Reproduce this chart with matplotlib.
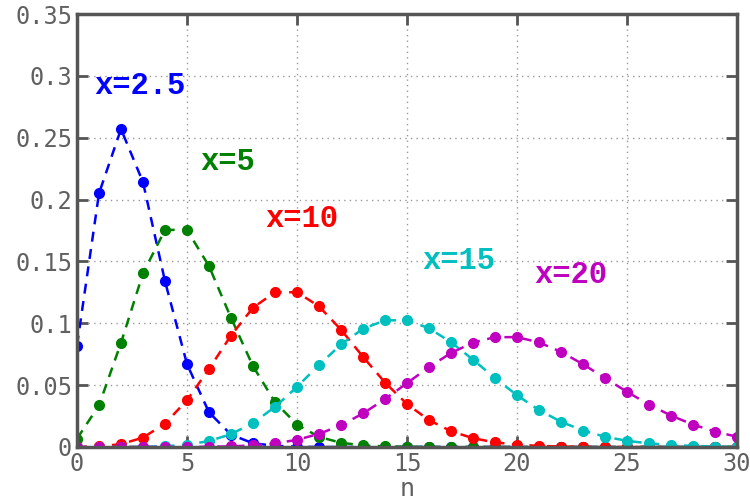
import matplotlib.pyplot as plt
import numpy as np

n = np.arange(31)

# poisson probabilities
p25 = [0.082, 0.205, 0.257, 0.214, 0.134, 0.067, 0.028, 0.010, 0.003, 0.001,
       0.0002, 0, 0, 0, 0, 0, 0, 0, 0, 0, 0, 0, 0, 0, 0, 0, 0, 0, 0, 0, 0]
p5 = [0.0067, 0.0337, 0.0842, 0.1404, 0.1755, 0.1755, 0.1462, 0.1044, 0.0653,
      0.0363, 0.0181, 0.0082, 0.0034, 0.0013, 0.0005, 0.0002, 0, 0, 0, 0, 0,
      0, 0, 0, 0, 0, 0, 0, 0, 0, 0]
p10 = [0.0000, 0.0005, 0.0023, 0.0076, 0.0189, 0.0378, 0.0631, 0.0901, 0.1126,
       0.1251, 0.1251, 0.1137, 0.0948, 0.0729, 0.0521, 0.0347, 0.0217, 0.0128,
       0.0071, 0.0037, 0.0019, 0.0009, 0.0004, 0.0002, 0.0001, 0, 0, 0, 0, 0, 0]
p15 = [0, 0, 0, 0.0002, 0.0006, 0.0019, 0.0048, 0.0104, 0.0194, 0.0324, 0.0486,
       0.0663, 0.0829, 0.0956, 0.1024, 0.1024, 0.0960, 0.0847, 0.0706, 0.0557,
       0.0418, 0.0299, 0.0204, 0.0133, 0.0083, 0.0050, 0.0029, 0.0016, 0.0009,
       0.0004, 0.0002]
p20 = [0, 0, 0, 0, 0, 0.0001, 0.0002, 0.0005, 0.0013, 0.0029, 0.0058, 0.0106,
       0.0176, 0.0271, 0.0387, 0.0516, 0.0646, 0.0760, 0.0844, 0.0888, 0.0888,
       0.0846, 0.0769, 0.0669, 0.0557, 0.0446, 0.0343, 0.0254, 0.0181, 0.0125,
       0.0083]

series = [p25, p5, p10, p15, p20]
colors = ['#0000ff', '#008000', '#ff0000', '#00bfbf', '#bf00bf']
labels = ['x=2.5', 'x=5', 'x=10', 'x=15', 'x=20']
label_pos = [(0.8, 0.292), (5.6, 0.230), (8.55, 0.184), (15.7, 0.150), (20.8, 0.139)]

fig = plt.figure(figsize=(7.5, 5.01), dpi=100)
ax = fig.add_axes([77/750, 54/501, 660/750, 433/501])

for y, c in zip(series, colors):
    ax.plot(n, y, '--', color=c, lw=1.8, marker='o', ms=7, dashes=(4, 3))

for (lx, ly), t, c in zip(label_pos, labels, colors):
    ax.text(lx, ly, t, color=c, fontsize=22, fontweight='bold',
            family='Liberation Mono', va='center', ha='left')

ax.set_xlim(0, 30)
ax.set_ylim(0, 0.35)
ax.set_xticks(range(0, 31, 5))
yt = [0, 0.05, 0.1, 0.15, 0.2, 0.25, 0.3, 0.35]
ax.set_yticks(yt)
ax.set_yticklabels(['0', '0.05', '0.1', '0.15', '0.2', '0.25', '0.3', '0.35'])
ax.grid(True, linestyle=(0, (1, 3)), color='#999999', lw=1)
ax.tick_params(direction='in', length=8, width=2, color='#555555',
               labelcolor='#606060', labelsize=17, top=True, right=True)
for lab in ax.get_xticklabels() + ax.get_yticklabels():
    lab.set_family('DejaVu Sans Mono')
for s in ax.spines.values():
    s.set_color('#555555')
    s.set_linewidth(2.5)
ax.set_xlabel('n', fontsize=18, color='#606060', labelpad=1, family='DejaVu Sans Mono')

fig.savefig('out.png', dpi=100)
